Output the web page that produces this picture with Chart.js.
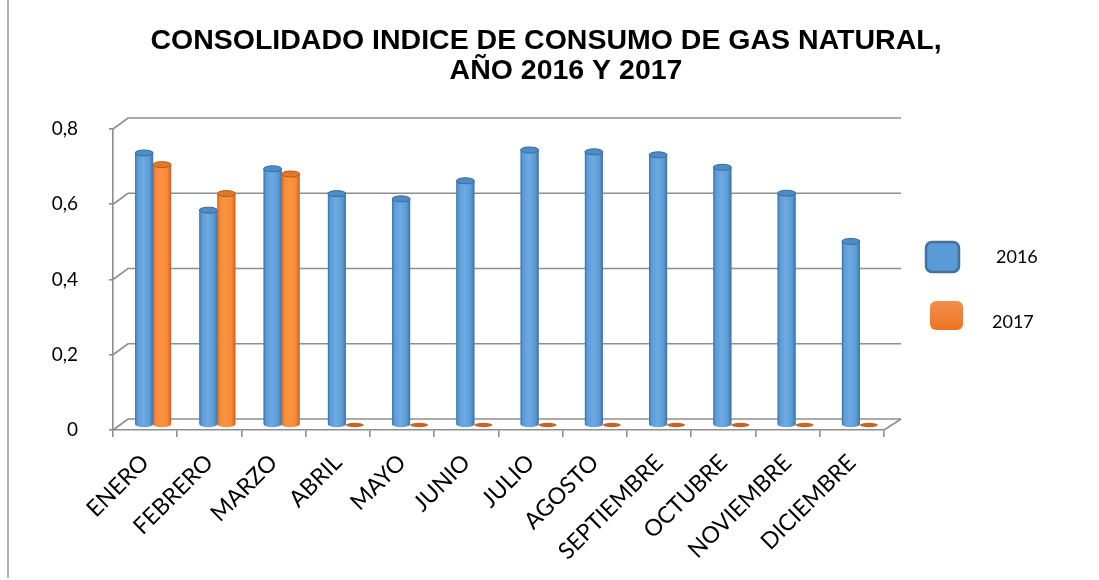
<!DOCTYPE html>
<html><head><meta charset="utf-8">
<script src="https://cdn.jsdelivr.net/npm/chart.js@4"></script>
<style>html,body{margin:0;padding:0;background:#fff}#wrap{position:relative;width:1099px;height:580px}</style>
</head><body><div id="wrap"><canvas id="c" width="1099" height="580"></canvas></div>
<script>
const titleLines = ['CONSOLIDADO INDICE DE CONSUMO DE GAS NATURAL,', 'AÑO 2016 Y 2017'];
const months = ['ENERO','FEBRERO','MARZO','ABRIL','MAYO','JUNIO','JULIO','AGOSTO','SEPTIEMBRE','OCTUBRE','NOVIEMBRE','DICIEMBRE'];
const series2016 = [0.723,0.571,0.681,0.615,0.601,0.649,0.731,0.726,0.718,0.685,0.616,0.488];
const series2017 = [0.692,0.615,0.667,0,0,0,0,0,0,0,0,0];
const seriesLabels = ['2016','2017'];
const yTickValues = [0,0.2,0.4,0.6,0.8];
const yTickLabels = ['0','0,2','0,4','0,6','0,8'];

const PAL = [
  {base:'#5b9bd5', edge:'#3a6d9e', light:'#6eaae3', edge2:'#3f73a6', cap:'#4f8cc6', capEdge:'#3a6d9e', zero:'#4f8cc6'},
  {base:'#f58a36', edge:'#c0601e', light:'#fb9440', edge2:'#c8621c', cap:'#e2782a', capEdge:'#b85a1a', zero:'#c96322'}
];
const DX = 15, DY = 11, DXR = 17;     // depth of the back wall
const BX = 8, BY = -5;                // bars sit at mid depth

const frame3d = {
  id: 'frame3d',
  beforeDatasetsDraw(chart) {
    const ctx = chart.ctx, ys = chart.scales.y, ca = chart.chartArea;
    ctx.save();
    ctx.strokeStyle = '#8e8e8e'; ctx.lineWidth = 1.6;
    yTickValues.forEach(v => {
      const py = ys.getPixelForValue(v);
      ctx.beginPath();
      ctx.moveTo(ca.left, py);
      ctx.lineTo(ca.left + DX, py - DY);
      ctx.lineTo(ca.right + DXR, py - DY);
      ctx.stroke();
    });
    ctx.beginPath();
    ctx.moveTo(ca.right, ca.bottom);
    ctx.lineTo(ca.right + DXR, ca.bottom - DY);
    ctx.stroke();
    ctx.restore();
    ctx.save();
    ctx.translate(BX, BY);
  },
  afterDatasetsDraw(chart) {
    const ctx = chart.ctx;
    chart.data.datasets.forEach((ds, di) => {
      const meta = chart.getDatasetMeta(di);
      const pal = PAL[di];
      meta.data.forEach(el => {
        const {x, y, base, width} = el.getProps(['x','y','base','width'], true);
        const l = x - width/2, r = x + width/2, rx = width/2, ry = 3;
        if (base - y > 1) {
          const g = ctx.createLinearGradient(l, 0, r, 0);
          g.addColorStop(0, pal.edge);
          g.addColorStop(0.12, pal.base);
          g.addColorStop(0.45, pal.light);
          g.addColorStop(0.8, pal.base);
          g.addColorStop(1, pal.edge2);
          ctx.fillStyle = g;
          ctx.beginPath();
          ctx.moveTo(l, y);
          ctx.lineTo(l, base);
          ctx.ellipse(x, base, rx, ry, 0, Math.PI, 0, true);
          ctx.lineTo(r, y);
          ctx.ellipse(x, y, rx, ry, 0, 0, Math.PI, true);
          ctx.closePath();
          ctx.fill();
          ctx.beginPath();
          ctx.ellipse(x, y, rx, ry, 0, 0, Math.PI*2);
          ctx.fillStyle = pal.cap; ctx.fill();
          ctx.strokeStyle = pal.capEdge; ctx.lineWidth = 1; ctx.stroke();
        } else {
          ctx.beginPath();
          ctx.ellipse(x, base, rx, 2.2, 0, 0, Math.PI*2);
          ctx.fillStyle = pal.zero; ctx.fill();
        }
      });
    });
    ctx.restore();
  },
  afterDraw(chart) {
    const ctx = chart.ctx;
    ctx.save();
    // outer border at left
    ctx.strokeStyle = '#b4b4b4'; ctx.lineWidth = 2;
    ctx.beginPath(); ctx.moveTo(8, 0); ctx.lineTo(8, 578); ctx.stroke();
    // title
    ctx.fillStyle = '#000';
    ctx.font = 'bold 28.5px "Liberation Sans", Arial, sans-serif';
    ctx.textBaseline = 'alphabetic'; ctx.textAlign = 'center';
    ctx.fillText(titleLines[0], 546, 49);
    ctx.fillText(titleLines[1], 566, 79);
    // legend
    const boxes = [{x:926, y:242, w:33, h:30}, {x:930, y:301, w:33, h:29}];
    const texts = [{x:996, y:257}, {x:992, y:322}];
    ctx.font = '18px Lato, "Open Sans", sans-serif';
    ctx.textAlign = 'left'; ctx.textBaseline = 'middle';
    seriesLabels.forEach((lab, i) => {
      const b = boxes[i];
      ctx.beginPath();
      ctx.roundRect(b.x, b.y, b.w, b.h, 6);
      if (i === 0) {
        ctx.fillStyle = PAL[0].base; ctx.fill();
        ctx.strokeStyle = '#41719c'; ctx.lineWidth = 2.5; ctx.stroke();
      } else {
        const g = ctx.createLinearGradient(0, b.y, 0, b.y + b.h);
        g.addColorStop(0, '#f28f4f'); g.addColorStop(1, '#ec7320');
        ctx.fillStyle = g; ctx.fill();
      }
      ctx.fillStyle = '#000';
      ctx.fillText(lab, texts[i].x, texts[i].y);
    });
    ctx.restore();
  }
};

new Chart(document.getElementById('c'), {
  type: 'bar',
  data: {
    labels: months,
    datasets: [
      {label: seriesLabels[0], data: series2016, backgroundColor: PAL[0].base, categoryPercentage: 0.56, barPercentage: 1},
      {label: seriesLabels[1], data: series2017, backgroundColor: PAL[1].base, categoryPercentage: 0.56, barPercentage: 1}
    ]
  },
  options: {
    responsive: false,
    animation: false,
    events: [],
    layout: {padding: {top: 129, right: 215, left: 0, bottom: 0}},
    plugins: {legend: {display: false}, title: {display: false}, tooltip: {enabled: false}},
    scales: {
      x: {
        afterFit: s => { s.height = 150; },
        grid: {drawOnChartArea: false, drawTicks: true, tickLength: 7, color: '#8e8e8e', lineWidth: 1.6},
        border: {display: true, color: '#8e8e8e', width: 1.6},
        ticks: {autoSkip: false, minRotation: 45, maxRotation: 45, color: '#000', padding: 12,
                font: {family: 'Lato, "Open Sans", sans-serif', size: 23}}
      },
      y: {
        min: 0, max: 0.8,
        afterFit: s => { s.width = 113; },
        afterBuildTicks: s => { s.ticks = yTickValues.map(v => ({value: v})); },
        grid: {drawOnChartArea: false, drawTicks: true, tickLength: 4, color: '#8e8e8e', lineWidth: 1.6},
        border: {display: true, color: '#8e8e8e', width: 1.6},
        ticks: {color: '#000', padding: 31, font: {family: 'Lato, "Open Sans", sans-serif', size: 19},
                callback: (v, i) => yTickLabels[i]}
      }
    }
  },
  plugins: [frame3d]
});
</script></body></html>
